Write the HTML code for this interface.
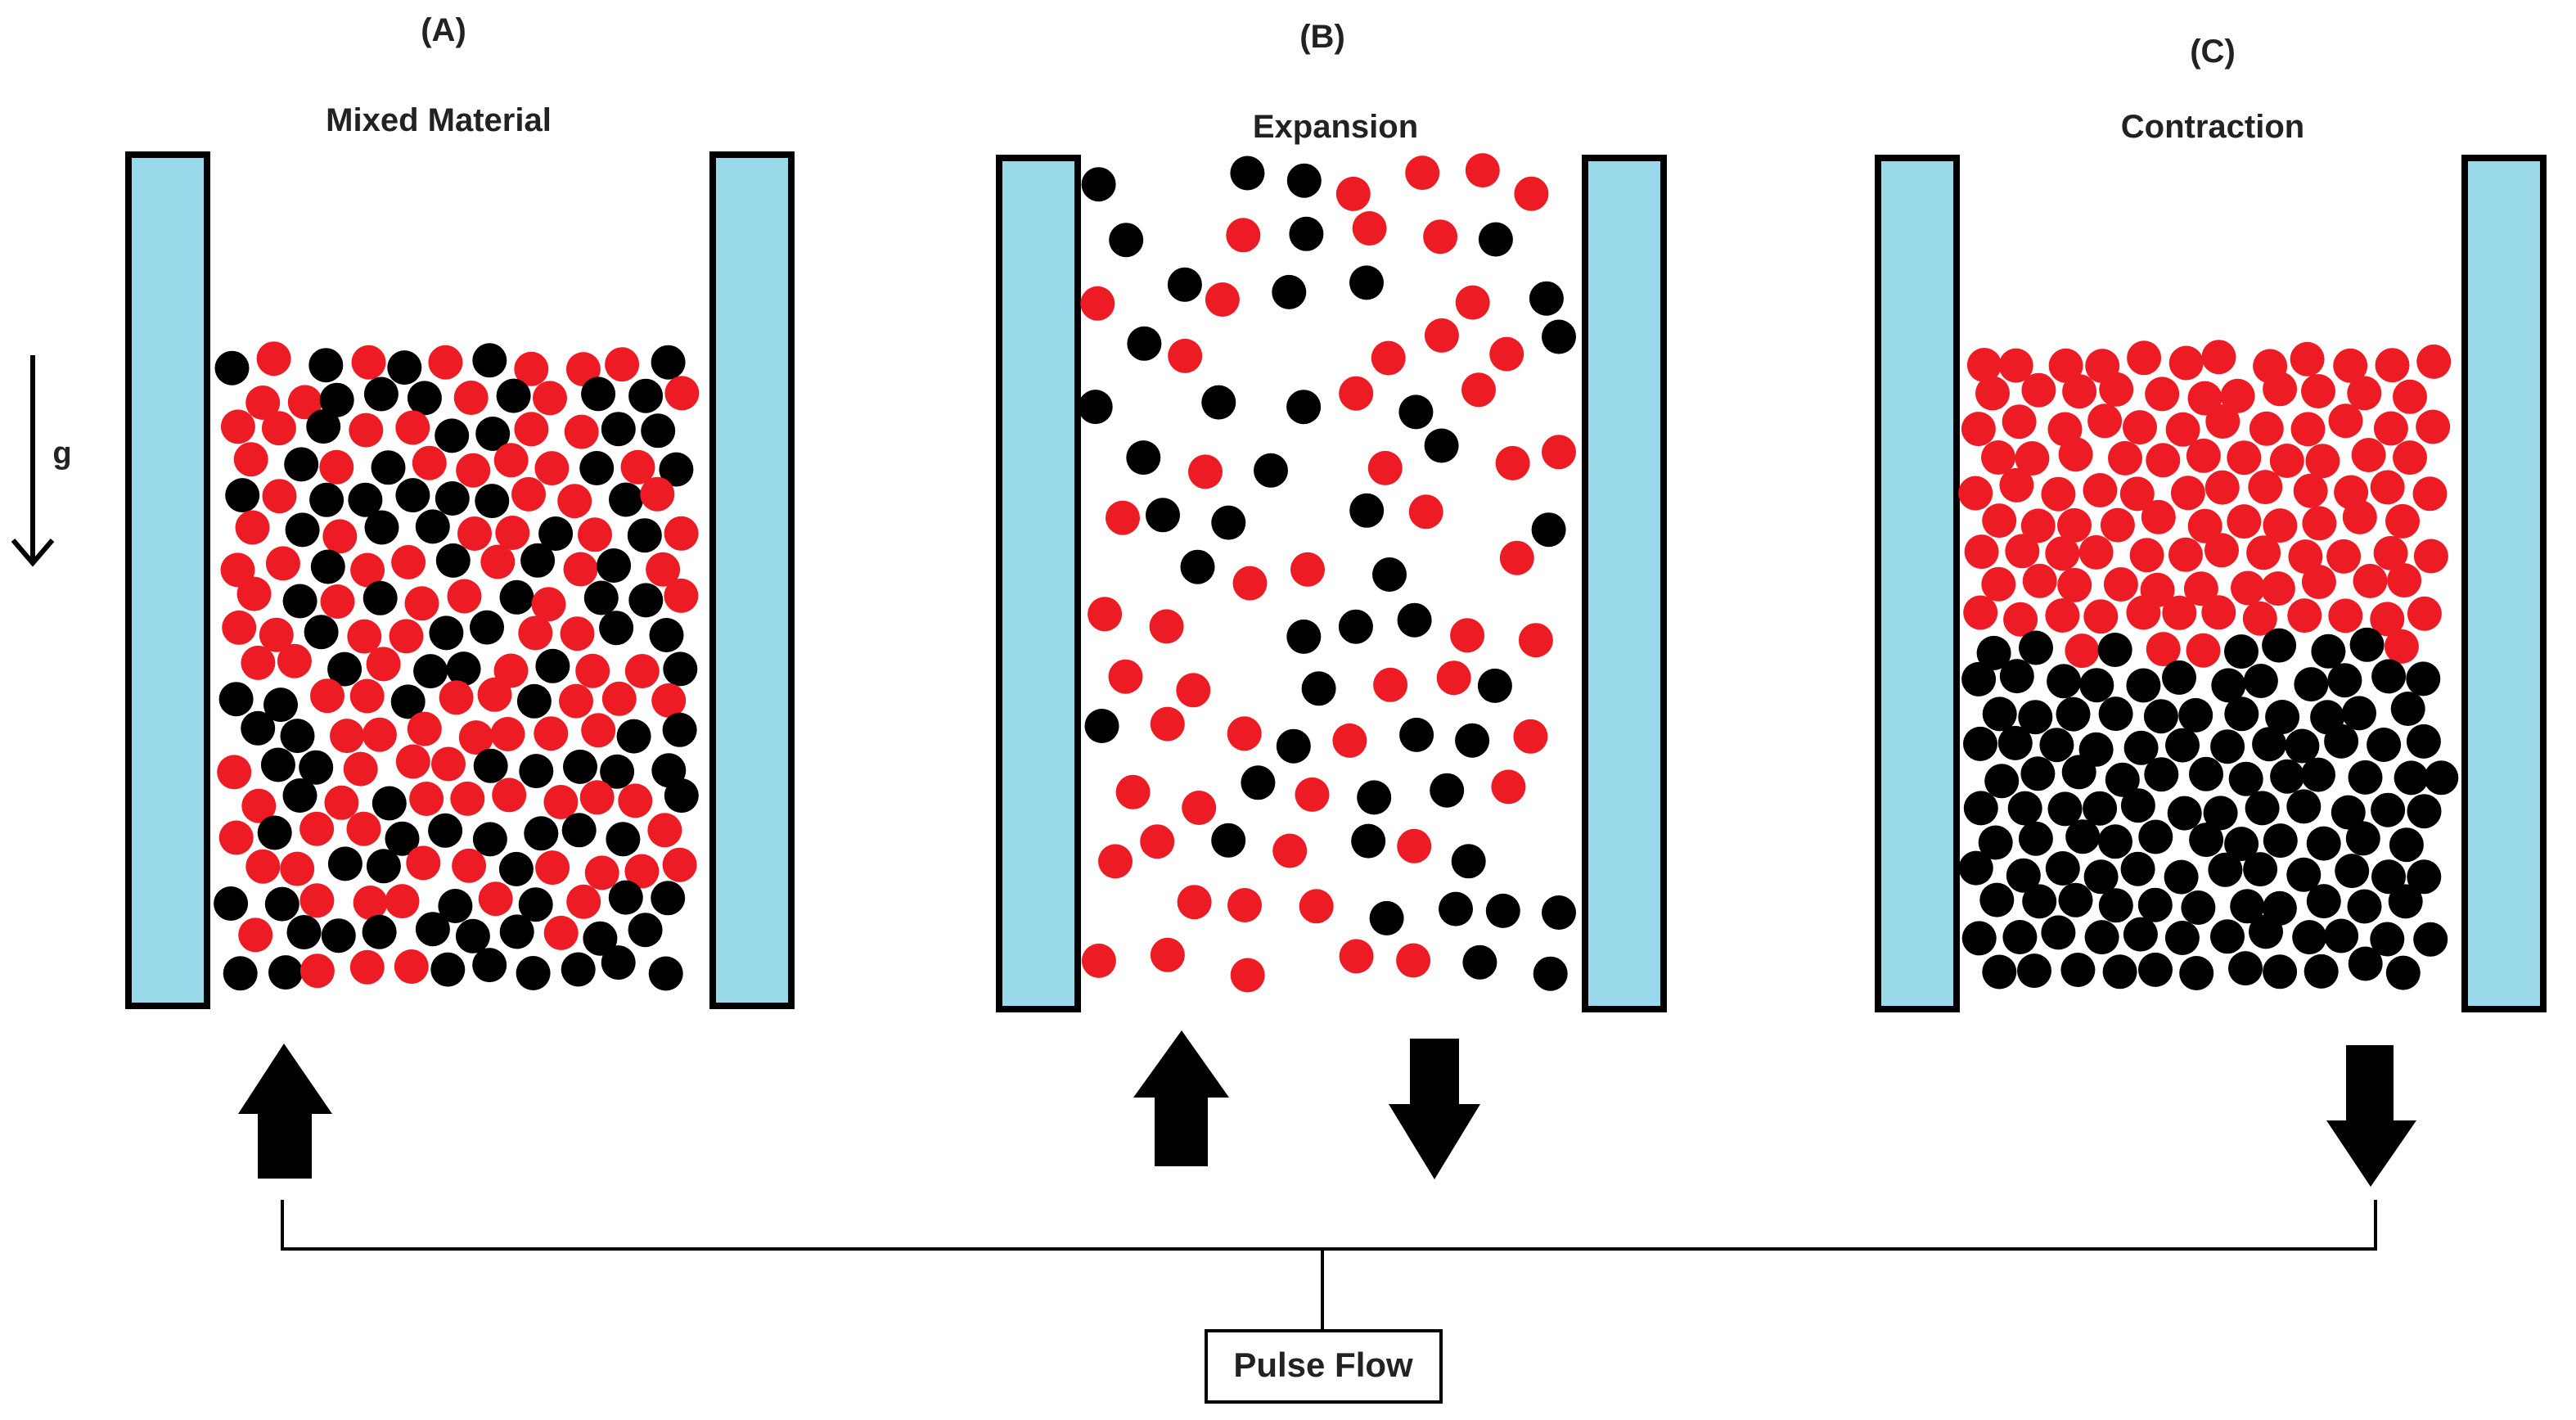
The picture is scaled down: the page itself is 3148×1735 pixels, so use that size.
<!DOCTYPE html>
<html><head><meta charset="utf-8"><style>
html,body{margin:0;padding:0;background:#fff;width:3148px;height:1735px;overflow:hidden}
svg{display:block}
text{font-family:"Liberation Sans",sans-serif;font-weight:bold;fill:#222}
</style></head><body>
<svg id="s" width="3148" height="1735" viewBox="0 0 3148 1735" xmlns="http://www.w3.org/2000/svg">
<g fill="#99D9EA" stroke="#000" stroke-width="8">
<rect x="157" y="189" width="96" height="1040"/>
<rect x="871" y="189" width="96" height="1040"/>
<rect x="1221" y="193" width="96" height="1040"/>
<rect x="1937" y="193" width="96" height="1040"/>
<rect x="2295" y="193" width="96" height="1040"/>
<rect x="3012" y="193" width="96" height="1040"/>
</g>
<g id="dots"></g>
<text x="542" y="50" font-size="40" text-anchor="middle">(A)</text>
<text x="536" y="160" font-size="40" text-anchor="middle">Mixed Material</text>
<text x="1616" y="58" font-size="40" text-anchor="middle">(B)</text>
<text x="1632" y="168" font-size="40" text-anchor="middle">Expansion</text>
<text x="2704" y="76" font-size="40" text-anchor="middle">(C)</text>
<text x="2704" y="168" font-size="40" text-anchor="middle">Contraction</text>
<text x="76" y="566" font-size="38" text-anchor="middle">g</text>
<line x1="40" y1="434" x2="40" y2="685" stroke="#000" stroke-width="6"/>
<polyline points="16,660 40,688 64,660" fill="none" stroke="#000" stroke-width="6"/>
<g fill="#000">
<polygon points="347,1275 406,1361 381,1361 381,1440 315,1440 315,1361 291,1361"/>
<polygon points="1444,1259 1502,1341 1476,1341 1476,1425 1411,1425 1411,1341 1385,1341"/>
<polygon points="1723,1269 1783,1269 1783,1349 1809,1349 1753,1441 1697,1349 1723,1349"/>
<polygon points="2867,1277 2925,1277 2925,1369 2953,1369 2897,1450 2843,1369 2867,1369"/>
</g>
<g fill="none" stroke="#000" stroke-width="4">
<polyline points="345,1466 345,1526 2903,1526 2903,1466"/>
<line x1="1616" y1="1526" x2="1616" y2="1626"/>
<rect x="1474" y="1626" width="287" height="87"/>
</g>
<text x="1617" y="1682" font-size="42" text-anchor="middle">Pulse Flow</text>
</svg>
<script>
var seed=12345;function r(){seed=(seed*16807)%2147483647;return seed/2147483647;}
var g=document.getElementById('dots'),h='';
function c(x,y,col){h+='<circle cx="'+x.toFixed(1)+'" cy="'+y.toFixed(1)+'" r="21" fill="'+col+'"/>';}
var RED='#ED1C24',BLK='#000';
// Panel A
for(var j=0;j<19;j++){for(var i=0;i<11;i++){var x=290+i*52+(j%2)*24+(r()-.5)*16,y=445+j*41+(r()-.5)*14;if(x>835)continue;c(x,y,r()<0.5?RED:BLK);}}
// Panel B
for(var j=0;j<15;j++){for(var i=0;i<8;i++){if(r()<0.2)continue;var x=1355+i*76+(j%2)*30+(r()-.5)*36,y=222+j*68+(r()-.5)*36;if(x>1905)x=1905;c(x,y,r()<0.5?RED:BLK);}}
// Panel C
for(var j=0;j<20;j++){for(var i=0;i<12;i++){var x=2418+i*50+(j%2)*22+(r()-.5)*14,y=442+j*39+(r()-.5)*12;if(x>2985)continue;var lim=790+(r()-.5)*60;c(x,y,y<lim?RED:BLK);}}
g.innerHTML=h;
</script>
</body></html>
